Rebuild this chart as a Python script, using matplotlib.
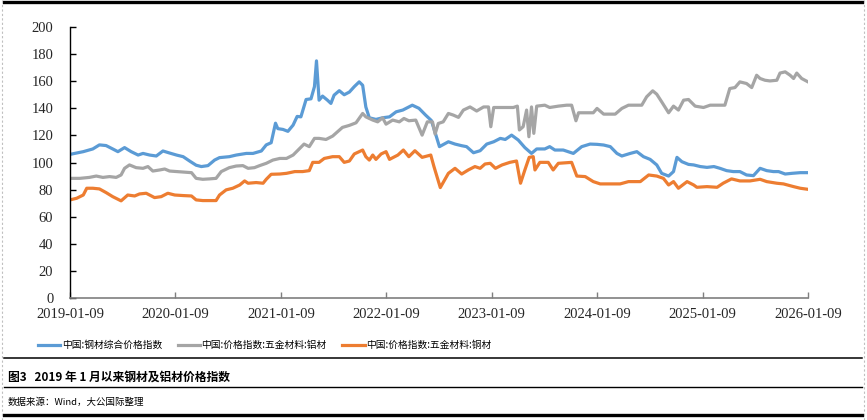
import pandas as pd
import matplotlib
matplotlib.use("Agg")
import matplotlib.pyplot as plt
import matplotlib.dates as mdates
from matplotlib.lines import Line2D

plt.rcParams['font.family'] = ['Noto Sans CJK SC', 'DejaVu Sans']

# -------------------------------
# DATA
# -------------------------------
steel_dates = [
    "2019-01-09", "2019-02-24", "2019-03-29", "2019-04-21", "2019-05-14", "2019-06-06",
    "2019-06-24", "2019-07-17", "2019-08-09", "2019-09-02", "2019-09-19", "2019-10-12",
    "2019-11-04", "2019-11-27", "2019-12-20", "2020-01-13", "2020-02-05", "2020-02-28",
    "2020-03-21", "2020-04-08", "2020-05-01", "2020-05-24", "2020-06-10", "2020-07-14",
    "2020-08-07", "2020-09-11", "2020-10-04", "2020-11-02", "2020-11-19", "2020-12-06",
    "2020-12-21", "2020-12-29", "2021-01-16", "2021-02-02", "2021-02-20", "2021-03-06",
    "2021-03-19", "2021-04-06", "2021-04-23", "2021-05-05", "2021-05-12", "2021-05-21",
    "2021-06-02", "2021-06-19", "2021-07-01", "2021-07-12", "2021-07-30", "2021-08-16",
    "2021-09-03", "2021-09-20", "2021-10-07", "2021-10-19", "2021-10-30", "2021-11-11",
    "2021-12-04", "2021-12-27", "2022-01-20", "2022-02-12", "2022-03-07", "2022-04-09",
    "2022-05-02", "2022-05-25", "2022-06-14", "2022-06-28", "2022-07-12", "2022-08-12",
    "2022-09-04", "2022-09-27", "2022-10-14", "2022-11-07", "2022-11-30", "2022-12-23",
    "2023-01-16", "2023-02-08", "2023-02-25", "2023-03-19", "2023-04-11", "2023-05-04",
    "2023-05-27", "2023-06-14", "2023-07-12", "2023-07-29", "2023-08-16", "2023-09-14",
    "2023-10-19", "2023-11-17", "2023-12-16", "2024-01-09", "2024-02-01", "2024-02-24",
    "2024-03-18", "2024-04-04", "2024-05-03", "2024-05-26", "2024-06-18", "2024-07-11",
    "2024-08-03", "2024-08-20", "2024-09-13", "2024-09-30", "2024-10-12", "2024-10-29",
    "2024-11-21", "2024-12-09", "2025-01-01", "2025-01-24", "2025-02-17", "2025-03-10",
    "2025-04-02", "2025-04-25", "2025-05-18", "2025-06-10", "2025-07-04", "2025-07-27",
    "2025-08-19", "2025-09-11", "2025-09-29", "2025-10-22", "2025-11-14", "2025-12-13",
    "2026-01-09",
]
steel_index = [
    106, 108, 110, 113, 112.5, 110,
    108, 111, 108, 105.5, 106.7, 105.5,
    104.8, 108.5, 107, 105.5, 104.3, 101,
    98, 97, 97.7, 101.8, 103.6, 104.3,
    105.5, 106.7, 106.7, 108.5, 113, 114.6,
    129, 125, 124.4, 123, 127.6, 134,
    133.7, 146.5, 147, 156, 175, 146,
    149, 146, 143.6, 149.7, 153, 150,
    152, 156, 159.5, 157, 141, 133,
    131.8, 133, 133.7, 137.4, 138.7, 142.3,
    140, 135, 131, 121.5, 111.7, 115.3,
    113.6, 112.4, 111.7, 107.2, 108.7, 113.6,
    115.3, 117.8, 117, 120.2, 116.6, 111,
    106.7, 110, 110, 111.7, 109.2, 109.2,
    106.7, 111.7, 113.6, 113.4, 112.9, 111.7,
    106.7, 104.8, 106.7, 108, 104.3, 102.3,
    98.2, 92, 90, 93.3, 103.8, 100.6,
    98.6, 98.2, 97, 96.4, 97, 95.7,
    94, 93.3, 93.3, 90.8, 90.3, 95.7,
    94, 93.3, 93.3, 91.5, 92, 92.5,
    92.5,
]

alu_dates = [
    "2019-01-09", "2019-02-12", "2019-03-17", "2019-04-10", "2019-05-03", "2019-05-26",
    "2019-06-18", "2019-07-05", "2019-07-17", "2019-08-03", "2019-08-26", "2019-09-19",
    "2019-10-06", "2019-10-23", "2019-11-16", "2019-12-03", "2019-12-20", "2020-01-13",
    "2020-02-11", "2020-03-05", "2020-03-21", "2020-04-13", "2020-05-06", "2020-05-29",
    "2020-06-16", "2020-07-14", "2020-08-07", "2020-08-30", "2020-09-17", "2020-10-09",
    "2020-10-27", "2020-11-19", "2020-12-12", "2021-01-05", "2021-01-28", "2021-02-20",
    "2021-03-13", "2021-03-30", "2021-04-17", "2021-05-05", "2021-05-21", "2021-06-14",
    "2021-07-07", "2021-07-24", "2021-08-10", "2021-09-03", "2021-09-26", "2021-10-19",
    "2021-10-30", "2021-11-23", "2021-12-10", "2021-12-27", "2022-01-08", "2022-01-31",
    "2022-02-23", "2022-03-11", "2022-03-28", "2022-04-21", "2022-05-13", "2022-05-31",
    "2022-06-18", "2022-06-27", "2022-07-08", "2022-07-25", "2022-08-12", "2022-08-29",
    "2022-09-16", "2022-10-03", "2022-10-26", "2022-11-18", "2022-12-12", "2022-12-29",
    "2023-01-06", "2023-01-16", "2023-02-08", "2023-03-03", "2023-03-25", "2023-04-08",
    "2023-04-15", "2023-04-28", "2023-05-10", "2023-05-18", "2023-05-27", "2023-06-04",
    "2023-06-14", "2023-07-12", "2023-07-29", "2023-08-28", "2023-09-26", "2023-10-13",
    "2023-10-21", "2023-10-28", "2023-11-06", "2023-12-04", "2023-12-27", "2024-01-09",
    "2024-02-01", "2024-03-12", "2024-04-04", "2024-04-27", "2024-06-12", "2024-06-29",
    "2024-07-20", "2024-08-03", "2024-08-20", "2024-09-13", "2024-09-30", "2024-10-17",
    "2024-11-04", "2024-11-21", "2024-12-14", "2025-01-12", "2025-02-04", "2025-03-27",
    "2025-04-13", "2025-05-01", "2025-05-18", "2025-06-10", "2025-06-28", "2025-07-15",
    "2025-07-27", "2025-08-13", "2025-08-30", "2025-09-23", "2025-10-04", "2025-10-22",
    "2025-11-08", "2025-11-20", "2025-12-01", "2025-12-18", "2026-01-09",
]
alu_index = [
    88.3, 88.3, 89, 90, 89, 89.6,
    89, 90.8, 95.7, 98.2, 96.2, 95.7,
    97, 93.7, 94.5, 95.2, 93.7, 93.3,
    92.8, 92.5, 88.3, 87.6, 87.9, 88.3,
    93.3, 96.2, 97.4, 97.7, 95.7, 96.2,
    97.7, 99.4, 101.8, 103, 103, 105.5,
    110, 113.6, 111.7, 117.8, 117.8, 117,
    119.5, 122.7, 125.9, 127.4, 129.3, 136.2,
    133.7, 131.3, 130, 133, 128.3, 131.3,
    130, 132.5, 130.8, 131.3, 120.2, 130,
    130, 121, 128.8, 130, 136.2, 135,
    133.3, 138.7, 141, 138, 141, 141,
    126.4, 140.6, 140.6, 140.6, 140.6, 141.6,
    124, 126.4, 138.7, 119, 141, 121.5,
    141.6, 142.3, 140.6, 141.6, 142.3, 142.3,
    136.2, 130.8, 136.7, 136.7, 136.7, 139.9,
    135.7, 135.7, 139.9, 142.3, 142.3, 148.5,
    152.9, 150.4, 144.8, 136.7, 141.6, 138.7,
    146, 146.5, 141.6, 140.6, 142.3, 142.3,
    154.6, 155.3, 159.5, 158.3, 155.3, 164.4,
    162, 160.7, 160.2, 160.7, 166, 166.9,
    164.4, 162, 166, 162, 159.5,
]

copper_dates = [
    "2019-01-09", "2019-02-01", "2019-02-24", "2019-03-08", "2019-03-29", "2019-04-21",
    "2019-05-14", "2019-06-06", "2019-07-05", "2019-07-28", "2019-08-21", "2019-09-07",
    "2019-09-30", "2019-10-29", "2019-11-21", "2019-12-14", "2020-01-07", "2020-02-05",
    "2020-03-05", "2020-03-21", "2020-04-13", "2020-05-29", "2020-06-10", "2020-07-03",
    "2020-07-26", "2020-08-19", "2020-09-05", "2020-09-17", "2020-10-15", "2020-11-08",
    "2020-11-19", "2020-12-06", "2021-01-05", "2021-01-28", "2021-02-26", "2021-03-25",
    "2021-04-17", "2021-04-29", "2021-05-21", "2021-06-08", "2021-07-07", "2021-07-30",
    "2021-08-16", "2021-09-03", "2021-09-20", "2021-10-19", "2021-10-30", "2021-11-11",
    "2021-11-23", "2021-12-04", "2021-12-22", "2022-01-08", "2022-01-20", "2022-02-18",
    "2022-03-09", "2022-03-28", "2022-04-18", "2022-05-13", "2022-06-12", "2022-06-23",
    "2022-07-15", "2022-08-12", "2022-09-04", "2022-09-27", "2022-10-20", "2022-11-12",
    "2022-11-30", "2022-12-17", "2023-01-04", "2023-01-22", "2023-02-14", "2023-03-13",
    "2023-04-05", "2023-04-19", "2023-05-04", "2023-05-19", "2023-06-02", "2023-06-08",
    "2023-06-25", "2023-07-24", "2023-08-10", "2023-08-28", "2023-10-13", "2023-10-31",
    "2023-11-29", "2023-12-27", "2024-01-20", "2024-03-29", "2024-04-27", "2024-06-07",
    "2024-07-06", "2024-08-03", "2024-08-26", "2024-09-13", "2024-09-30", "2024-10-17",
    "2024-11-16", "2024-12-09", "2024-12-20", "2025-01-24", "2025-02-28", "2025-03-21",
    "2025-04-19", "2025-05-18", "2025-06-22", "2025-07-27", "2025-08-19", "2025-09-23",
    "2025-10-16", "2025-11-20", "2025-12-13", "2026-01-09",
]
copper_index = [
    72.4, 73.6, 76, 81, 81, 80.5,
    77.8, 74.8, 71.7, 76, 75.3, 76.8,
    77.3, 74.1, 74.8, 77.3, 76, 75.6,
    75.3, 72.4, 71.9, 71.9, 76, 79.8,
    81, 83.4, 86.4, 84.7, 85.2, 84.7,
    87.6, 91.3, 91.5, 92, 93.3, 93.3,
    94, 100.1, 100.1, 103, 104.3, 104.3,
    100.1, 101.1, 106.3, 109.2, 104.3, 101.8,
    105.5, 102.3, 106.3, 108, 102.3, 105.5,
    109.2, 104.3, 108.7, 103.8, 105.5, 97,
    81.5, 92, 95.7, 91.5, 94.5, 97,
    95.7, 98.9, 99.4, 95.7, 98.2, 100.1,
    101.1, 84.7, 94.5, 103.8, 104.3, 94.5,
    100.1, 100.1, 94.5, 99.4, 100.1, 90,
    89.6, 85.9, 84.2, 84.2, 85.9, 85.9,
    90.8, 90, 88.3, 83.4, 85.9, 81,
    85.9, 83.4, 81.7, 82.2, 81.7, 84.7,
    87.9, 86.4, 86.4, 87.6, 85.9, 84.7,
    84.2, 82.2, 81, 80.2,
]

series_labels = ["中国:钢材综合价格指数", "中国:价格指数:五金材料:铝材", "中国:价格指数:五金材料:铜材"]
series_colors = ["#5B9BD5", "#A5A5A5", "#ED7D31"]
tick_dates = ["2019-01-09", "2020-01-09", "2021-01-09", "2022-01-09",
              "2023-01-09", "2024-01-09", "2025-01-09", "2026-01-09"]
y_ticks = list(range(0, 201, 20))

title = "图3   2019 年 1 月以来钢材及铝材价格指数"
source = "数据来源：Wind，大公国际整理"

# -------------------------------
# PLOT
# -------------------------------
fig = plt.figure(figsize=(8.67, 4.2), dpi=100)
ax = fig.add_axes([70 / 867, 122 / 420, 738 / 867, 271 / 420])

all_series = [(steel_dates, steel_index), (alu_dates, alu_index), (copper_dates, copper_index)]
for (d, v), lab, col in zip(all_series, series_labels, series_colors):
    ax.plot(pd.to_datetime(d), v, color=col, lw=2.3, label=lab, solid_joinstyle="round")

ticks = pd.to_datetime(tick_dates)
ax.set_xlim(ticks[0], ticks[-1])
ax.set_ylim(0, 200)
ax.set_xticks(ticks)
ax.xaxis.set_major_formatter(mdates.DateFormatter("%Y-%m-%d"))
ax.set_yticks(y_ticks)

for s in ["top", "right"]:
    ax.spines[s].set_visible(False)
ax.spines["left"].set_color("black")
ax.spines["left"].set_linewidth(1.0)
ax.spines["bottom"].set_color("#7f7f7f")
ax.spines["bottom"].set_linewidth(1.2)
ax.tick_params(axis="y", direction="in", length=4, width=1, color="black", pad=12)
ax.tick_params(axis="x", direction="in", length=4, width=1, color="#7f7f7f", pad=7)
for lab in ax.get_xticklabels() + ax.get_yticklabels():
    lab.set_fontfamily(["Liberation Serif", "DejaVu Serif"])
    lab.set_fontsize(10.5)
    lab.set_color("#262626")

# legend under the plot
handles = [Line2D([0], [0], color=c, lw=2.3) for c in series_colors]
fig.legend(handles, series_labels, loc="center left", bbox_to_anchor=(38 / 867, 1 - 345 / 420),
           ncol=3, frameon=False, fontsize=7, handlelength=2.3, handletextpad=0.15,
           columnspacing=1.6, borderpad=0, borderaxespad=0)

# frame lines and caption
def hline(y, lw):
    fig.add_artist(Line2D([4 / 867, 862 / 867], [1 - y / 420, 1 - y / 420],
                          transform=fig.transFigure, color="black", lw=lw))

hline(2, 2.4)
hline(358, 1.1)
hline(387, 1.0)
hline(415, 2.4)
for x in [2, 864]:
    fig.add_artist(Line2D([x / 867, x / 867], [0, 1], transform=fig.transFigure,
                          color="#bfbfbf", lw=0.8, ls=(0, (2, 2))))

fig.text(8 / 867, 1 - 377 / 420, title, fontsize=8.5, fontweight="bold", va="center", ha="left")
fig.text(8 / 867, 1 - 402 / 420, source, fontsize=6.8, va="center", ha="left")

fig.savefig("out.png", dpi=100)
